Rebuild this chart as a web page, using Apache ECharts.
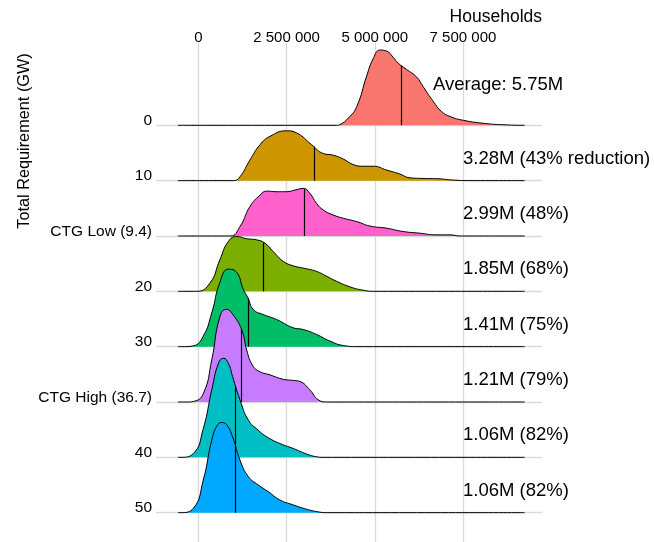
<!DOCTYPE html>
<html>
<head>
<meta charset="utf-8">
<script src="https://cdn.jsdelivr.net/npm/echarts@6/dist/echarts.min.js"></script>
<style>
  html, body { margin: 0; padding: 0; background: #fff; }
  #chart { width: 654px; height: 542px; }
</style>
</head>
<body>
<div id="chart"></div>
<script>
// Scenario rows, top to bottom (total requirement, GW)
const rowNames = ['0', '10', 'CTG Low (9.4)', '20', '30', 'CTG High (36.7)', '40', '50'];
const rowColors = ['#F8766D', '#CD9600', '#FF61CC', '#7CAE00', '#00BE67', '#C77CFF', '#00BFC4', '#00A9FF'];
// Average households per scenario, millions
const averages = [5.75, 3.28, 2.99, 1.85, 1.41, 1.21, 1.06, 1.06];
// Households axis ticks, millions
const xTicks = [0, 2.5, 5, 7.5];

// Density curves: [households (millions), density height in row units]
const dens0 = [[3.92,0],[4.01,0.012],[4.25,0.13],[4.49,0.34],[4.77,0.89],[4.96,1.21],[5.15,1.36],[5.34,1.34],[5.52,1.23],[5.67,1.12],[5.90,1.01],[6.19,0.87],[6.37,0.70],[6.66,0.43],[6.89,0.25],[7.13,0.16],[7.51,0.09],[8.17,0.03],[8.64,0.01],[9.21,0]];
const dens1 = [[0.99,0],[1.18,0.07],[1.46,0.37],[1.75,0.65],[2.03,0.80],[2.50,0.90],[2.79,0.86],[3.21,0.65],[3.54,0.49],[3.82,0.46],[4.11,0.39],[4.39,0.29],[4.67,0.26],[4.96,0.26],[5.34,0.19],[5.71,0.12],[6.00,0.05],[6.37,0.04],[6.75,0.036],[7.22,0.01],[7.70,0]];
const dens2 = [[0.90,0],[1.18,0.17],[1.46,0.53],[1.75,0.74],[1.94,0.81],[2.22,0.80],[2.50,0.80],[2.74,0.83],[2.97,0.86],[3.16,0.77],[3.35,0.59],[3.54,0.47],[3.82,0.38],[4.11,0.32],[4.49,0.26],[4.86,0.18],[5.34,0.14],[5.81,0.08],[6.28,0.05],[6.75,0.02],[7.13,0.02],[7.41,0]];
const dens3 = [[-0.05,0],[0.33,0.15],[0.61,0.57],[0.85,0.90],[1.09,0.99],[1.37,0.95],[1.65,0.93],[1.89,0.87],[2.12,0.72],[2.41,0.54],[2.69,0.46],[2.97,0.42],[3.35,0.36],[3.64,0.27],[3.92,0.18],[4.30,0.08],[4.67,0.02],[4.96,0]];
const dens4 = [[-0.40,0],[-0.14,0.015],[0.14,0.19],[0.38,0.61],[0.61,1.16],[0.85,1.40],[1.09,1.34],[1.27,1.04],[1.40,0.89],[1.56,0.67],[1.84,0.58],[2.22,0.49],[2.69,0.34],[2.97,0.31],[3.35,0.22],[3.73,0.10],[4.11,0.02],[4.49,0]];
const dens5 = [[-0.30,0],[-0.14,0.01],[0.14,0.15],[0.38,0.76],[0.61,1.54],[0.80,1.675],[0.99,1.57],[1.23,1.30],[1.37,0.94],[1.52,0.68],[1.70,0.56],[2.03,0.49],[2.41,0.41],[2.69,0.39],[2.88,0.37],[3.16,0.22],[3.40,0.04],[3.64,0]];
const dens6 = [[-0.52,0],[-0.14,0.07],[0.14,0.52],[0.38,1.22],[0.57,1.70],[0.71,1.79],[0.85,1.70],[0.97,1.46],[1.18,1.04],[1.42,0.67],[1.70,0.49],[1.94,0.37],[2.31,0.25],[2.69,0.16],[3.07,0.06],[3.35,0.01],[3.54,0]];
const dens7 = [[-0.52,0],[-0.14,0.08],[0.14,0.59],[0.38,1.31],[0.52,1.56],[0.66,1.63],[0.80,1.59],[0.97,1.37],[1.18,0.95],[1.42,0.65],[1.70,0.50],[1.98,0.38],[2.31,0.23],[2.69,0.14],[2.97,0.08],[3.35,0.02],[3.64,0]];
const densities = [dens0, dens1, dens2, dens3, dens4, dens5, dens6, dens7];

const FONT = '"Liberation Sans", Arial, Helvetica, sans-serif';
const LINE_START = -0.58, LINE_END = 9.25;   // extent of each ridge baseline
const X_MIN = -1.2, X_MAX = 9.74;
const Y_MIN = -0.53, Y_MAX = 8.487;
const nRows = rowNames.length;

function baseOf(i) { return nRows - 1 - i; }

function heightAt(dens, x) {
  for (let k = 0; k < dens.length - 1; k++) {
    const [x0, h0] = dens[k], [x1, h1] = dens[k + 1];
    if (x >= x0 && x <= x1) return h0 + (h1 - h0) * (x - x0) / (x1 - x0);
  }
  return 0;
}

function fmtHouseholds(v) {
  return String(Math.round(v * 1e6)).replace(/\B(?=(\d{3})+(?!\d))/g, ' ');
}

function annotation(i) {
  const avg = averages[i].toFixed(2) + 'M';
  if (i === 0) return 'Average: ' + avg;
  const pct = Math.round((1 - averages[i] / averages[0]) * 100);
  return i === 1 ? `${avg} (${pct}% reduction)` : `${avg} (${pct}%)`;
}

// Where each average label sits, in data units
function annotationAnchor(i) {
  return i === 0 ? [6.65, baseOf(i) + 0.73] : [7.5, baseOf(i) + 0.4];
}

const series = [];

// Grid lines under every ridge
series.push({
  type: 'line',
  data: [[X_MIN, Y_MIN]],
  showSymbol: false,
  symbol: 'none',
  lineStyle: { opacity: 0 },
  silent: true,
  z: 1,
  markLine: {
    z: 1,
    silent: true,
    symbol: ['none', 'none'],
    label: { show: false },
    lineStyle: { color: '#d9d9d9', width: 1.3, type: 'solid' },
    data: [
      ...xTicks.map(v => ({ xAxis: v })),
      ...rowNames.map((_, i) => ({ yAxis: baseOf(i) }))
    ]
  }
});

// Ridges, drawn top to bottom so lower rows overlap upper ones
densities.forEach((dens, i) => {
  const base = baseOf(i);
  const pts = [[LINE_START, base], ...dens.map(([x, h]) => [x, base + h]), [LINE_END, base]];
  const avgH = heightAt(dens, averages[i]);
  series.push({
    type: 'line',
    name: rowNames[i],
    data: pts,
    smooth: 0.5,
    symbol: 'none',
    showSymbol: false,
    silent: true,
    z: 3 + 2 * i,
    lineStyle: { color: '#000', width: 1 },
    areaStyle: { color: rowColors[i], opacity: 1, origin: base },
    markLine: {
      z: 4 + 2 * i,
      silent: true,
      symbol: ['none', 'none'],
      label: { show: false },
      lineStyle: { color: '#000', width: 1.2, type: 'solid' },
      data: [[{ coord: [averages[i], base] }, { coord: [averages[i], base + avgH] }]]
    }
  });
});

const chart = echarts.init(document.getElementById('chart'), null, { renderer: 'canvas' });
const staticGraphics = [
  {
    type: 'text',
    x: 542,
    y: 17,
    style: { text: 'Households', fill: '#000', font: '17.5px ' + FONT, align: 'right', verticalAlign: 'middle' }
  },
  {
    type: 'text',
    x: 25,
    y: 141,
    rotation: Math.PI / 2,
    style: { text: 'Total Requirement (GW)', fill: '#000', font: '16.3px ' + FONT, align: 'center', verticalAlign: 'middle' }
  }
];

chart.setOption({
  animation: false,
  backgroundColor: '#fff',
  textStyle: { fontFamily: FONT },
  grid: { left: 156, right: 112, top: 43, bottom: 0, containLabel: false },
  xAxis: {
    type: 'value',
    position: 'top',
    min: X_MIN,
    max: X_MAX,
    axisLine: { show: false },
    axisTick: { show: false },
    splitLine: { show: false },
    axisLabel: {
      customValues: xTicks,
      formatter: fmtHouseholds,
      color: '#000',
      fontSize: 15,
      fontFamily: FONT,
      margin: -2
    }
  },
  yAxis: {
    type: 'value',
    min: Y_MIN,
    max: Y_MAX,
    axisLine: { show: false },
    axisTick: { show: false },
    splitLine: { show: false },
    axisLabel: {
      customValues: rowNames.map((_, i) => baseOf(i)),
      formatter: v => rowNames[nRows - 1 - Math.round(v)],
      color: '#000',
      fontSize: 15.5,
      fontFamily: FONT,
      margin: 4,
      verticalAlign: 'bottom',
      lineHeight: 9
    }
  },
  graphic: staticGraphics,
  series
});

// Average labels, placed through the grid's own coordinate conversion
const labelGraphics = averages.map((a, i) => {
  const [px, py] = chart.convertToPixel({ gridIndex: 0 }, annotationAnchor(i));
  return {
    type: 'text',
    x: px,
    y: py,
    z: 100,
    style: { text: annotation(i), fill: '#000', font: '18.5px ' + FONT, align: 'left', verticalAlign: 'middle' }
  };
});
chart.setOption({ graphic: staticGraphics.concat(labelGraphics) });
</script>
</body>
</html>
